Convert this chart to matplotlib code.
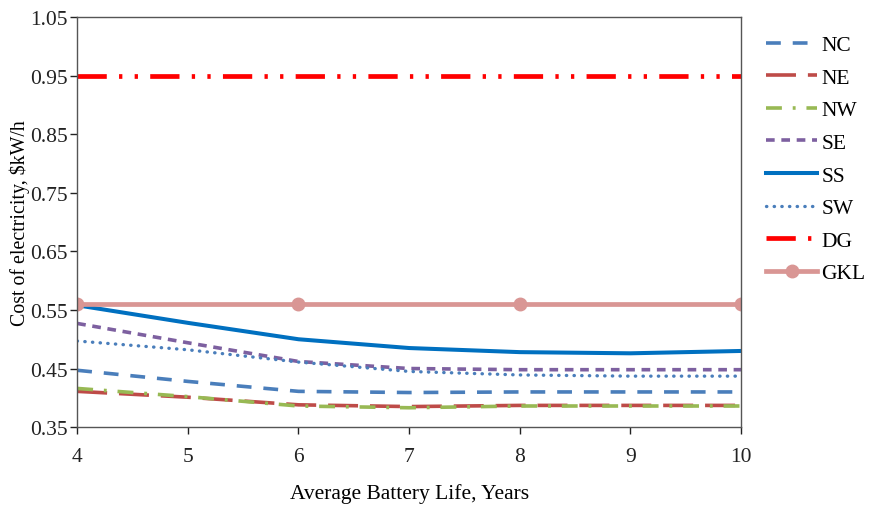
import matplotlib
matplotlib.use('Agg')
import matplotlib.pyplot as plt

plt.rcParams['font.family'] = ['Liberation Serif', 'DejaVu Serif']

# cost of electricity vs average battery life, one series per region
years = [4, 5, 6, 7, 8, 9, 10]
nc = [0.447, 0.428, 0.411, 0.409, 0.410, 0.410, 0.410]
ne = [0.411, 0.401, 0.388, 0.385, 0.387, 0.387, 0.387]
nw = [0.416, 0.402, 0.386, 0.383, 0.386, 0.386, 0.386]
se = [0.527, 0.494, 0.462, 0.450, 0.448, 0.448, 0.448]
ss = [0.558, 0.528, 0.500, 0.485, 0.478, 0.476, 0.480]
sw = [0.497, 0.482, 0.461, 0.445, 0.439, 0.437, 0.437]
dg = [0.95] * len(years)
gkl = [0.56] * len(years)
gkl_marks = [4, 6, 8, 10]

fig = plt.figure(figsize=(8.77, 5.06), dpi=100)
ax = fig.add_axes([0.088, 0.154, 0.757, 0.81])

lw = 2.6
ax.plot(years, nc, color='#4A7EBB', lw=lw, dashes=(4.1, 3.3), label='NC')
ax.plot(years, ne, color='#BE4B48', lw=lw, dashes=(8.3, 3.3), label='NE')
ax.plot(years, nw, color='#98B954', lw=lw, dashes=(4.4, 3.0, 0.8, 3.0), label='NW')
ax.plot(years, se, color='#7D60A0', lw=lw, dashes=(2.4, 1.85), label='SE')
ax.plot(years, ss, color='#0070C0', lw=2.9, label='SS')
ax.plot(years, sw, color='#4A7EBB', lw=2.4, dashes=(0.1, 2.2),
        dash_capstyle='round', label='SW')
ax.plot(years, dg, color='#FF0000', lw=3.4,
        dashes=(6.2, 2.6, 0.7, 2.6, 0.7, 2.6), label='DG')
ax.plot(years, gkl, color='#D99694', lw=3.4, marker='o', markersize=9,
        markevery=[years.index(m) for m in gkl_marks], label='GKL')

ax.set_xlim(4, 10)
ax.set_ylim(0.35, 1.05)
ax.set_xticks(range(4, 11))
ax.set_yticks([0.35, 0.45, 0.55, 0.65, 0.75, 0.85, 0.95, 1.05])
ax.set_yticklabels(['0.35', '0.45', '0.55', '0.65', '0.75', '0.85', '0.95', '1.05'])
ax.tick_params(direction='out', length=5, width=1, labelsize=15.5, colors='#222222')
ax.tick_params(axis='x', pad=9)
ax.tick_params(axis='y', pad=2)
for sp in ax.spines.values():
    sp.set_color('#555555')
    sp.set_linewidth(1)

ax.set_xlabel('Average Battery Life, Years', fontsize=15.5, labelpad=13)
ax.set_ylabel('Cost of electricity, $kW/h', fontsize=14.3, labelpad=0)

ax.legend(loc='upper left', bbox_to_anchor=(1.025, 0.977), frameon=False,
          fontsize=15.5, handlelength=2.35, labelspacing=0.58, handletextpad=0.2,
          borderaxespad=0)

fig.savefig('out.png', dpi=100)
